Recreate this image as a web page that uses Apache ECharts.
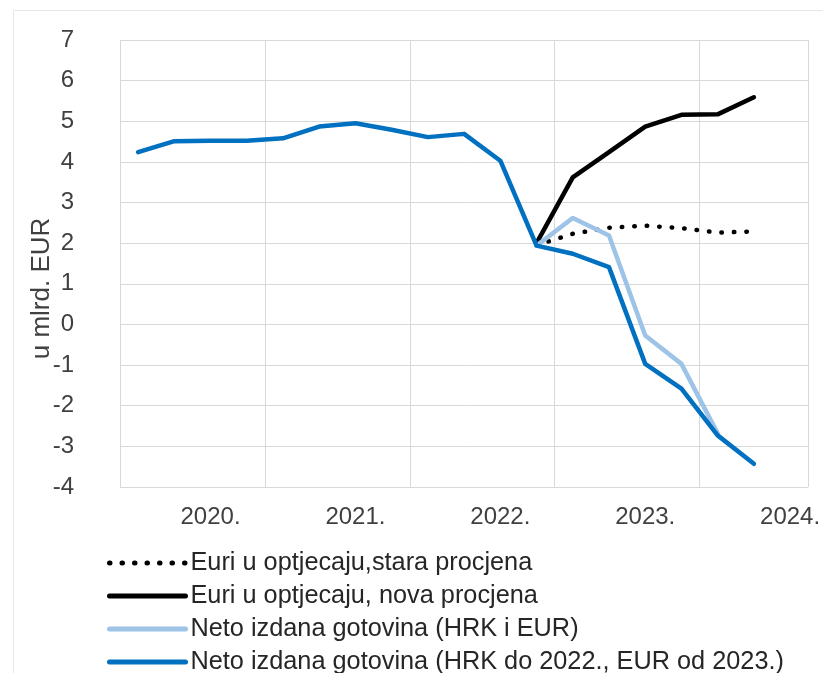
<!DOCTYPE html>
<html>
<head>
<meta charset="utf-8">
<script src="https://cdn.jsdelivr.net/npm/echarts@6/dist/echarts.min.js"></script>
<style>
  html, body { margin: 0; padding: 0; background: #fff; }
  #chart { width: 823px; height: 673px; }
</style>
</head>
<body>
<div id="chart"></div>
<script>
// quarters, the year label sits on Q1
const quarters = [
  '2019 Q3', '2019 Q4', '2020 Q1', '2020 Q2', '2020 Q3', '2020 Q4',
  '2021 Q1', '2021 Q2', '2021 Q3', '2021 Q4', '2022 Q1', '2022 Q2',
  '2022 Q3', '2022 Q4', '2023 Q1', '2023 Q2', '2023 Q3', '2023 Q4', '2024 Q1'
];

const euriStara = [null, null, null, null, null, null, null, null, null, null, null,
  1.95, 2.23, 2.38, 2.43, 2.37, 2.26, 2.29, null];
const euriNova = [null, null, null, null, null, null, null, null, null, null, null,
  2.0, 3.62, 4.24, 4.87, 5.16, 5.17, 5.59, null];
const netoHrkEur = [null, null, null, null, null, null, null, null, null, null, null,
  1.94, 2.62, 2.19, -0.27, -0.97, -2.68, null, null];
const netoHrkDo2022 = [4.24, 4.51, 4.52, 4.52, 4.58, 4.87, 4.95, 4.79, 4.61, 4.69, 4.03,
  1.94, 1.74, 1.41, -0.97, -1.58, -2.73, -3.43, null];

const seriesNames = [
  'Euri u optjecaju,stara procjena',
  'Euri u optjecaju, nova procjena',
  'Neto izdana gotovina (HRK i EUR)',
  'Neto izdana gotovina (HRK do 2022., EUR od 2023.)'
];

const font = '"Liberation Sans", Arial, sans-serif';
const chart = echarts.init(document.getElementById('chart'));

const option = {
  animation: false,
  textStyle: { fontFamily: font },
  graphic: [
    {
      type: 'rect',
      shape: { x: 13.5, y: 10.5, width: 900, height: 800 },
      style: { fill: 'none', stroke: '#e6e6e6', lineWidth: 1 },
      silent: true
    }
  ],
  grid: { left: 120, right: 10, top: 40, bottom: 186 },
  legend: {
    orient: 'vertical',
    left: 107,
    top: 549,
    height: 200,
    padding: 0,
    itemWidth: 76,
    itemHeight: 14,
    itemGap: 5,
    itemStyle: { opacity: 0 },
    lineStyle: { width: 5 },
    textStyle: { fontSize: 25.3, color: '#262626', fontFamily: font, lineHeight: 28 },
    data: seriesNames
  },
  xAxis: {
    type: 'category',
    data: quarters,
    boundaryGap: true,
    axisLine: { show: false },
    axisTick: { show: false },
    axisLabel: {
      interval: (i) => i % 4 === 2,
      formatter: (v) => v.slice(0, 4) + '.',
      fontSize: 24,
      color: '#404040',
      margin: 18
    },
    splitLine: {
      show: true,
      interval: (i) => i % 4 === 0,
      lineStyle: { color: '#d9d9d9', width: 1 }
    }
  },
  yAxis: {
    type: 'value',
    min: -4,
    max: 7,
    interval: 1,
    name: 'u mlrd. EUR',
    nameLocation: 'middle',
    nameRotate: 90,
    nameGap: 65,
    nameMoveOverlap: false,
    nameTextStyle: { fontSize: 26, color: '#404040', padding: [0, 50, 0, 0] },
    axisLine: { show: false },
    axisTick: { show: false },
    axisLabel: { fontSize: 24, color: '#404040', margin: 46 },
    splitLine: { lineStyle: { color: '#d9d9d9', width: 1 } }
  },
  series: [
    {
      name: seriesNames[0],
      type: 'line',
      data: euriStara,
      symbol: 'none',
      lineStyle: { color: '#000', width: 4.5, type: [0.5, 12], cap: 'round' },
      itemStyle: { color: '#000' }
    },
    {
      name: seriesNames[1],
      type: 'line',
      data: euriNova,
      symbol: 'none',
      lineStyle: { color: '#000', width: 4.5, cap: 'round', join: 'round' },
      itemStyle: { color: '#000' }
    },
    {
      name: seriesNames[2],
      type: 'line',
      data: netoHrkEur,
      symbol: 'none',
      lineStyle: { color: '#9dc3e6', width: 4.5, cap: 'round', join: 'round' },
      itemStyle: { color: '#9dc3e6' }
    },
    {
      name: seriesNames[3],
      type: 'line',
      data: netoHrkDo2022,
      symbol: 'none',
      lineStyle: { color: '#0070c0', width: 4.5, cap: 'round', join: 'round' },
      itemStyle: { color: '#0070c0' }
    }
  ]
};

chart.setOption(option);
</script>
</body>
</html>
